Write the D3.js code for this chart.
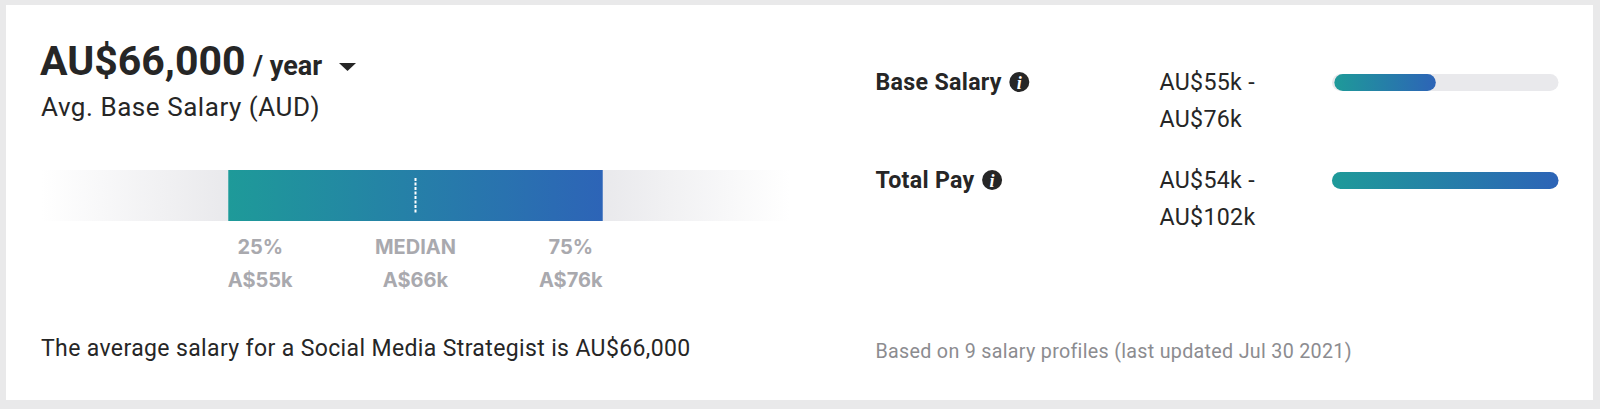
<!DOCTYPE html>
<html>
<head>
<meta charset="utf-8">
<script src="https://cdnjs.cloudflare.com/ajax/libs/d3/7.8.5/d3.min.js"></script>
<style>
html,body{margin:0;padding:0;background:#e9e9ea;}
svg{display:block;}
text{font-family:Roboto,sans-serif;}
text.lab{font-family:Inter,sans-serif;}
text.ico{font-family:"Liberation Serif",serif;}
</style>
</head>
<body>
<svg id="c" width="1600" height="409"></svg>
<script>
const percentileStops = [25, 50, 75];
const percentileNames = ["25%", "MEDIAN", "75%"];
const percentileValues = ["A$55k", "A$66k", "A$76k"];
const payCategories = ["Base Salary", "Total Pay"];
const payLow = [54.5, 54];
const payHigh = [76, 102];
const payLowLabels = ["AU$55k -", "AU$54k -"];
const payHighLabels = ["AU$76k", "AU$102k"];
const headline = "AU$66,000";
const period = "/ year";
const subtitle = "Avg. Base Salary (AUD)";
const sentence = "The average salary for a Social Media Strategist is AU$66,000";
const footnote = "Based on 9 salary profiles (last updated Jul 30 2021)";

const svg = d3.select("#c");
const defs = svg.append("defs");
const teal = "#1e9a99", blue = "#2d64b7", track = "#e9e9ec", ink = "#262626", muted = "#a9a9ae";

function grad(id, stops){
  const g = defs.append("linearGradient").attr("id", id);
  stops.forEach(s => g.append("stop").attr("offset", s[0]).attr("stop-color", s[1]).attr("stop-opacity", s[2] === undefined ? 1 : s[2]));
}
grad("fill", [[0, teal],[1, blue]]);
grad("fadeL", [[0, track, 0],[1, track, 1]]);
grad("fadeR", [[0, track, 1],[1, track, 0]]);

svg.append("rect").attr("x", 6).attr("y", 5).attr("width", 1587).attr("height", 395).attr("fill", "#fff");

// Left: heading
svg.append("text").attr("x", 40).attr("y", 75).attr("font-size", 41).attr("font-weight", 700).attr("fill", ink).text(headline);
svg.append("text").attr("x", 253).attr("y", 75).attr("font-size", 27).attr("font-weight", 700).attr("fill", ink).text(period);
svg.append("path").attr("d", d3.line()([[339, 63],[356, 63],[347.5, 71]]) + "Z").attr("fill", ink);
svg.append("text").attr("x", 41).attr("y", 116).attr("font-size", 26).attr("fill", ink).attr("letter-spacing", 0.55).text(subtitle);

// Left: percentile bar
const px = d3.scaleLinear().domain([0, 100]).range([41, 790]);
const barTop = 170, barH = 51;
svg.append("rect").attr("x", px(0)).attr("y", barTop).attr("width", px(25) - px(0)).attr("height", barH).attr("fill", "url(#fadeL)");
svg.append("rect").attr("x", px(75)).attr("y", barTop).attr("width", px(100) - px(75)).attr("height", barH).attr("fill", "url(#fadeR)");
svg.append("rect").attr("x", px(25)).attr("y", barTop).attr("width", px(75) - px(25)).attr("height", barH).attr("fill", "url(#fill)");
svg.append("line").attr("x1", px(50)).attr("x2", px(50)).attr("y1", 178).attr("y2", 213)
  .attr("stroke", "#fff").attr("stroke-width", 2).attr("stroke-dasharray", "3 1.5");

const lab = svg.append("g").selectAll("g").data(percentileStops).join("g");
const labX = d => px(d) + (d === 25 ? 32 : d === 75 ? -32 : 0);
lab.append("text").attr("class", "lab").attr("x", labX).attr("y", 254)
  .attr("text-anchor", "middle").attr("font-size", 20).attr("font-weight", 700).attr("fill", muted)
  .text((d, i) => percentileNames[i]);
lab.append("text").attr("class", "lab").attr("x", labX).attr("y", 287)
  .attr("text-anchor", "middle").attr("font-size", 20).attr("font-weight", 700).attr("fill", muted)
  .text((d, i) => percentileValues[i]);

svg.append("text").attr("x", 41).attr("y", 355.5).attr("font-size", 23).attr("fill", ink).attr("letter-spacing", 0.37).text(sentence);

// Right: pay ranges
const rx = d3.scaleLinear().domain([d3.min(payLow), d3.max(payHigh)]).range([1332, 1558.5]);
const rowY = d3.scaleOrdinal().domain(payCategories).range([74, 172]);
const rows = svg.append("g").selectAll("g").data(payCategories).join("g")
  .attr("transform", d => `translate(0,${rowY(d)})`);

rows.append("text").attr("class", "name").attr("x", 875.5).attr("y", 16).attr("font-size", 23.2).attr("font-weight", 700)
  .attr("fill", ink).attr("letter-spacing", 0.3).text(d => d);

rows.each(function(d){
  const g = d3.select(this);
  const w = g.select(".name").node().getComputedTextLength();
  const cx = 875.5 + w + 17.5;
  const icon = g.append("g").attr("transform", `translate(${cx},8)`);
  icon.append("circle").attr("r", 10).attr("fill", ink);
  icon.append("text").attr("class", "ico").attr("y", 6.5).attr("text-anchor", "middle")
    .attr("font-style", "italic").attr("font-weight", 700).attr("font-size", 18).attr("fill", "#fff").text("i");
});

rows.append("text").attr("x", 1159.5).attr("y", 16).attr("font-size", 23.2).attr("fill", ink).attr("letter-spacing", 0.3).text((d, i) => payLowLabels[i]);
rows.append("text").attr("x", 1159.5).attr("y", 52.5).attr("font-size", 23.2).attr("fill", ink).attr("letter-spacing", 0.3).text((d, i) => payHighLabels[i]);

rows.append("rect").attr("x", rx.range()[0]).attr("y", 0).attr("width", rx.range()[1] - rx.range()[0]).attr("height", 17).attr("rx", 8.5).attr("fill", track);
rows.append("rect").attr("x", (d, i) => rx(payLow[i])).attr("y", 0).attr("width", (d, i) => rx(payHigh[i]) - rx(payLow[i]))
  .attr("height", 17).attr("rx", 8.5).attr("fill", "url(#fill)");

svg.append("text").attr("x", 875.5).attr("y", 358).attr("font-size", 19.7).attr("fill", "#8c8c90").attr("letter-spacing", 0.3).text(footnote);
</script>
</body>
</html>
